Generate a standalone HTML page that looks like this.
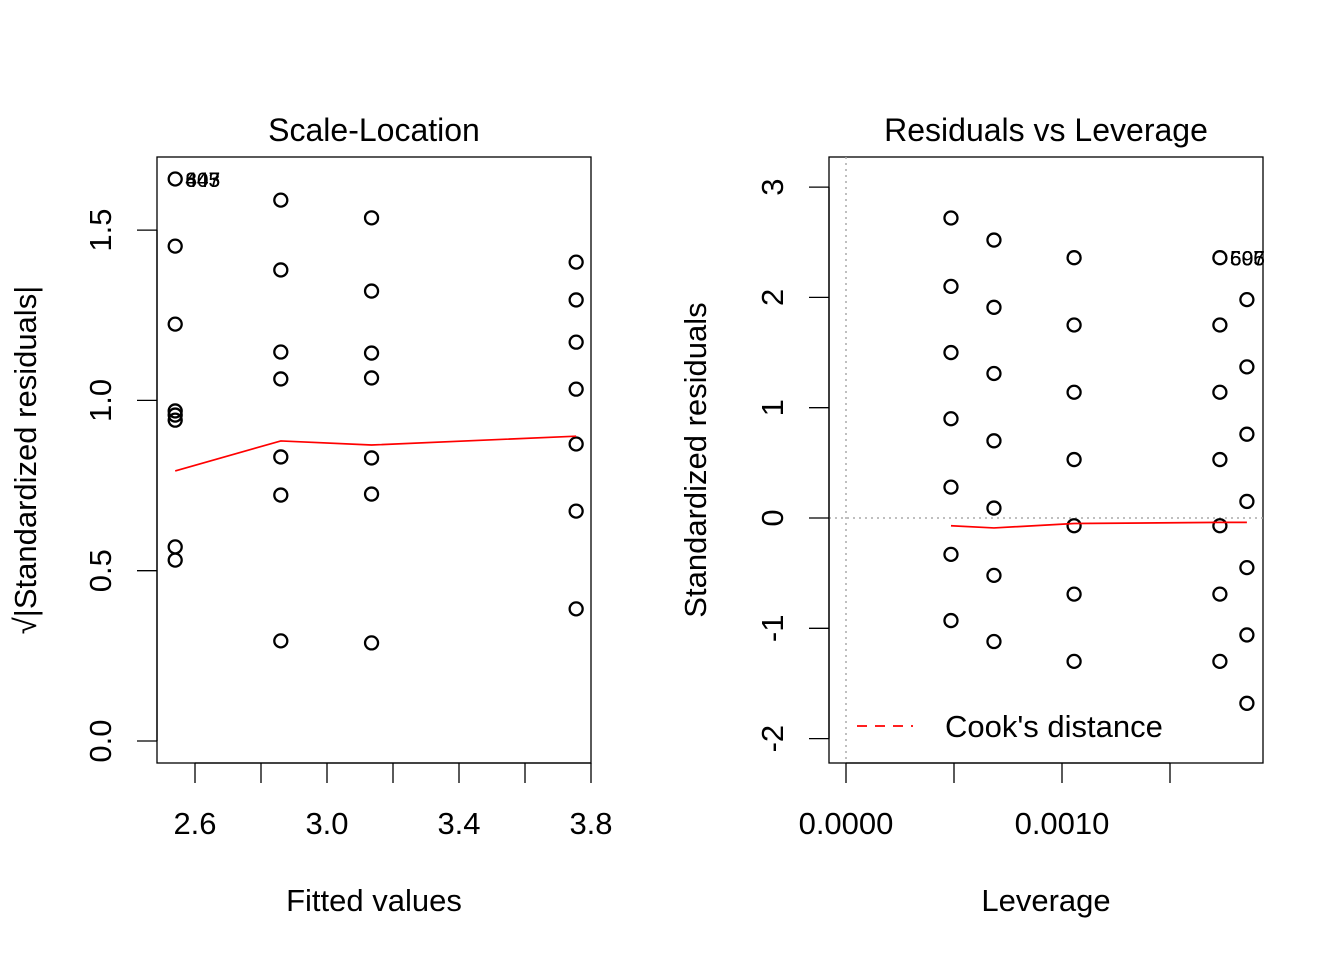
<!DOCTYPE html>
<html><head><meta charset="utf-8"><style>
body{margin:0;background:#fff}
svg{display:block;font-family:"Liberation Sans",Arial,sans-serif}
</style></head><body>
<svg id="s" width="1344" height="960" xmlns="http://www.w3.org/2000/svg"></svg>
<script>
// Scale-Location data
const slFitted=[2.54,2.86,3.135,3.755];
const slValues=[
 [1.650,1.453,1.224,0.969,0.957,0.942,0.570,0.531],
 [1.588,1.383,1.142,1.063,0.834,0.722,0.294],
 [1.536,1.321,1.139,1.066,0.831,0.725,0.288],
 [1.406,1.295,1.171,1.033,0.872,0.675,0.388]];
const slSmooth=[0.793,0.881,0.869,0.895];
const slXTicks=[2.6,2.8,3.0,3.2,3.4,3.6,3.8];
const slXLabels=["2.6","","3.0","","3.4","","3.8"];
const slYTicks=[0,0.5,1.0,1.5];
const slYLabels=["0.0","0.5","1.0","1.5"];
const slPtLabels=["847","603","445"];
// Residuals vs Leverage data
const rlLev=[0.000486,0.000685,0.001056,0.001731,0.001856];
const rlRes=[
 [2.72,2.10,1.50,0.90,0.28,-0.33,-0.93],
 [2.52,1.91,1.31,0.70,0.09,-0.52,-1.12],
 [2.36,1.75,1.14,0.53,-0.07,-0.69,-1.30],
 [2.36,1.75,1.14,0.53,-0.07,-0.69,-1.30],
 [1.98,1.37,0.76,0.15,-0.45,-1.06,-1.68]];
const rlSmooth=[-0.07,-0.09,-0.05,-0.04,-0.04];
const rlXTicks=[0,0.0005,0.0010,0.0015];
const rlXLabels=["0.0000","","0.0010",""];
const rlYTicks=[-2,-1,0,1,2,3];
const rlPtLabels=["597","606","605"];

const FS='31px';
const s=document.getElementById('s');
const NS='http://www.w3.org/2000/svg';
function mk(t,a,txt){const e=document.createElementNS(NS,t);for(const k in a)e.setAttribute(k,a[k]);if(txt!==undefined)e.textContent=txt;s.appendChild(e);return e;}

// ---- left
const lx=v=>195+(v-2.6)*330, ly=v=>741-v*340.6;
let e;
e=mk('rect',{x:157,y:157,width:434,height:606,fill:'none',stroke:'#000','stroke-width':1.3});

e=mk('text',{x:374,y:141,'font-size':'32px','text-anchor':'middle'},'Scale-Location');

mk('line',{x1:lx(2.6),x2:lx(3.8),y1:763,y2:763,stroke:'#000','stroke-width':1.3});
slXTicks.forEach((t,i)=>{mk('line',{x1:lx(t),x2:lx(t),y1:763,y2:783,stroke:'#000','stroke-width':1.3});
 if(slXLabels[i]){e=mk('text',{x:lx(t),y:834,'font-size':FS,'text-anchor':'middle'},slXLabels[i]);
 }});
mk('line',{x1:157,x2:157,y1:ly(0),y2:ly(1.5),stroke:'#000','stroke-width':1.3});
slYTicks.forEach((t,i)=>{mk('line',{x1:137,x2:157,y1:ly(t),y2:ly(t),stroke:'#000','stroke-width':1.3});
 e=mk('text',{x:111,y:ly(t),'font-size':FS,'text-anchor':'middle',transform:`rotate(-90 111 ${ly(t)})`},slYLabels[i]);
 });
e=mk('text',{x:374,y:911,'font-size':FS,'text-anchor':'middle'},'Fitted values');

e=mk('text',{x:36,y:460,'font-size':FS,'text-anchor':'middle',transform:'rotate(-90 36 460)'},'√|Standardized residuals|');

slFitted.forEach((f,i)=>slValues[i].forEach(v=>{e=mk('circle',{cx:lx(f),cy:ly(v),r:6.5,fill:'none',stroke:'#000','stroke-width':2.3});
 }));
e=mk('polyline',{points:slFitted.map((f,i)=>lx(f)+','+ly(slSmooth[i])).join(' '),fill:'none',stroke:'#f00','stroke-width':1.7});

slPtLabels.forEach(t=>{e=mk('text',{x:lx(slFitted[0])+10,y:ly(slValues[0][0])+8,'font-size':'21px'},t);
 });

// ---- right
const rx=v=>846+v*216000, ry=v=>518-v*110.3;
e=mk('rect',{x:829,y:157,width:434,height:606,fill:'none',stroke:'#000','stroke-width':1.3});

e=mk('text',{x:1046,y:141,'font-size':'32px','text-anchor':'middle'},'Residuals vs Leverage');

mk('line',{x1:846,x2:846,y1:157,y2:763,stroke:'#aaa','stroke-width':1.5,'stroke-dasharray':'2,4'});
mk('line',{x1:829,x2:1263,y1:518,y2:518,stroke:'#aaa','stroke-width':1.5,'stroke-dasharray':'2,4'});
mk('line',{x1:rx(0),x2:rx(0.0015),y1:763,y2:763,stroke:'#000','stroke-width':1.3});
rlXTicks.forEach((t,i)=>{mk('line',{x1:rx(t),x2:rx(t),y1:763,y2:783,stroke:'#000','stroke-width':1.3});
 if(rlXLabels[i]){e=mk('text',{x:rx(t),y:834,'font-size':FS,'text-anchor':'middle'},rlXLabels[i]);
 }});
mk('line',{x1:829,x2:829,y1:ry(-2),y2:ry(3),stroke:'#000','stroke-width':1.3});
rlYTicks.forEach(t=>{mk('line',{x1:809,x2:829,y1:ry(t),y2:ry(t),stroke:'#000','stroke-width':1.3});
 e=mk('text',{x:783,y:ry(t),'font-size':FS,'text-anchor':'middle',transform:`rotate(-90 783 ${ry(t)})`},String(t));
 });
e=mk('text',{x:1046,y:911,'font-size':FS,'text-anchor':'middle'},'Leverage');

e=mk('text',{x:706,y:460,'font-size':FS,'text-anchor':'middle',transform:'rotate(-90 706 460)'},'Standardized residuals');

rlLev.forEach((l,i)=>rlRes[i].forEach(v=>{e=mk('circle',{cx:rx(l),cy:ry(v),r:6.5,fill:'none',stroke:'#000','stroke-width':2.3});
 }));
e=mk('polyline',{points:rlLev.map((l,i)=>rx(l)+','+ry(rlSmooth[i])).join(' '),fill:'none',stroke:'#f00','stroke-width':1.7});

rlPtLabels.forEach(t=>{e=mk('text',{x:rx(rlLev[3])+10,y:ry(rlRes[3][0])+8,'font-size':'21px'},t);
 });
e=mk('line',{x1:857,x2:913,y1:726,y2:726,stroke:'#f00','stroke-width':1.7,'stroke-dasharray':'10,8'});

e=mk('text',{x:945,y:737,'font-size':FS},"Cook's distance");

</script>
</body></html>
